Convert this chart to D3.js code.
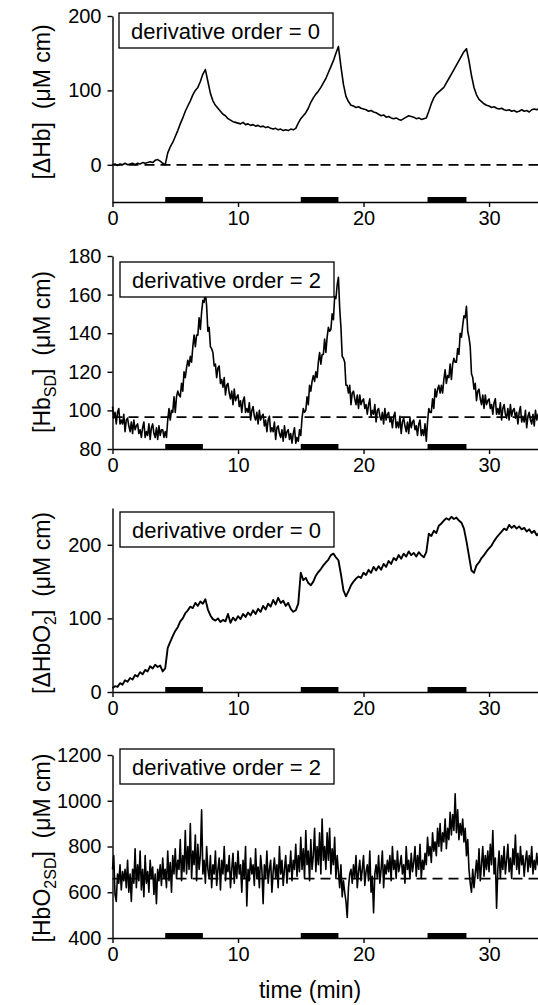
<!DOCTYPE html>
<html>
<head>
<meta charset="utf-8">
<script src="https://cdn.jsdelivr.net/npm/d3@7"></script>
<style>
  body { margin: 0; background: #fff; }
  svg { display: block; }
  text { font-family: "Liberation Sans", Arial, Helvetica, sans-serif; fill: #000; }
</style>
</head>
<body>
<div id="chart"></div>
<script>
// sampled traces, time in minutes (start 0, fixed step per trace)
const hbDeltaStep = 0.2;
const hbDelta = [
  0, 1, -1, 1, 0, 2, 0, 1, 2, 0, 2, 1, 3, 2, 3, 4, 3, 6, 7, 5,
  2, 0, 16, 24, 30, 38, 46, 55, 63, 72, 79, 86, 94, 100, 104, 112, 122, 128, 112, 96,
  86, 80, 76, 72, 68, 66, 62, 60, 58, 57, 56, 55, 57, 54, 55, 53, 54, 52, 53, 51,
  52, 50, 51, 49, 48, 49, 47, 48, 46, 47, 46, 48, 47, 49, 56, 62, 66, 70, 76, 84,
  90, 95, 99, 104, 110, 116, 124, 132, 140, 150, 159, 132, 108, 92, 85, 80, 79, 77, 78, 76,
  75, 74, 72, 73, 71, 70, 68, 66, 67, 64, 65, 63, 62, 63, 61, 60, 62, 64, 66, 65,
  64, 62, 63, 61, 62, 63, 72, 82, 90, 95, 98, 101, 104, 110, 116, 122, 128, 134, 140, 146,
  152, 156, 140, 120, 104, 94, 88, 85, 82, 80, 79, 77, 78, 76, 75, 76, 74, 73, 74, 72,
  73, 71, 72, 74, 72, 73, 71, 74, 75, 74, 76
];

const hbSDStep = 0.1;
const hbSD = [
  102, 96, 99, 93, 99, 101, 93, 95, 93, 98,
  89, 95, 96, 92, 89, 94, 88, 95, 90, 92,
  93, 88, 90, 86, 91, 94, 86, 89, 87, 93,
  85, 91, 93, 88, 86, 91, 85, 92, 87, 90,
  90, 86, 89, 86, 95, 101, 95, 100, 99, 107,
  99, 107, 110, 108, 107, 114, 110, 120, 117, 122,
  126, 123, 128, 125, 133, 139, 133, 139, 139, 148,
  142, 151, 157, 156, 162, 154, 141, 143, 133, 132,
  130, 123, 124, 117, 122, 123, 114, 116, 112, 117,
  108, 113, 114, 109, 106, 110, 103, 111, 105, 107,
  108, 102, 105, 99, 105, 107, 99, 101, 99, 104,
  95, 100, 102, 97, 95, 99, 93, 100, 95, 97,
  98, 92, 95, 89, 95, 97, 89, 91, 89, 94,
  85, 91, 92, 88, 86, 90, 84, 92, 86, 89,
  90, 85, 88, 83, 88, 91, 83, 86, 84, 90,
  87, 96, 101, 99, 100, 107, 103, 113, 110, 115,
  118, 115, 120, 117, 125, 130, 124, 129, 129, 137,
  130, 138, 143, 141, 142, 150, 147, 159, 158, 165,
  169, 153, 143, 128, 127, 125, 113, 113, 109, 113,
  103, 109, 110, 106, 103, 108, 101, 108, 103, 105,
  106, 101, 103, 98, 103, 106, 97, 100, 98, 103,
  94, 100, 101, 97, 95, 99, 93, 101, 95, 98,
  99, 94, 96, 91, 97, 99, 91, 94, 91, 97,
  88, 94, 96, 92, 89, 94, 88, 96, 91, 94,
  95, 90, 92, 87, 93, 95, 87, 90, 87, 93,
  84, 94, 101, 99, 99, 106, 101, 111, 107, 111,
  113, 109, 113, 109, 116, 121, 114, 118, 117, 124,
  116, 124, 127, 125, 125, 132, 129, 140, 138, 144,
  149, 148, 154, 141, 138, 133, 119, 117, 111, 114,
  105, 110, 111, 106, 103, 108, 101, 108, 103, 105,
  106, 101, 103, 98, 104, 106, 98, 101, 98, 104,
  95, 101, 103, 98, 96, 101, 95, 103, 97, 100,
  101, 96, 99, 93, 99, 102, 94, 97, 94, 100,
  91, 97, 99, 95, 93, 98, 92, 100, 95, 98,
  97
];

const hbo2DeltaStep = 0.2;
const hbo2Delta = [
  5, 8, 7, 12, 10, 16, 14, 19, 17, 23, 21, 27, 24, 30, 28, 35, 32, 37, 34, 36,
  28, 32, 60, 68, 76, 83, 88, 96, 100, 107, 111, 116, 114, 121, 117, 123, 120, 126, 112, 104,
  99, 97, 100, 95, 98, 96, 106, 94, 101, 97, 103, 99, 106, 102, 108, 104, 111, 106, 113, 109,
  117, 112, 120, 116, 125, 119, 128, 121, 124, 117, 121, 113, 109, 111, 120, 162, 152, 155, 148, 145,
  150, 158, 163, 167, 172, 176, 180, 186, 188, 183, 179, 160, 138, 130, 137, 145, 150, 154, 157, 155,
  162, 159, 166, 162, 170, 165, 171, 166, 174, 170, 178, 174, 182, 179, 186, 181, 188, 184, 191, 186,
  189, 184, 190, 186, 183, 190, 215, 212, 219, 216, 226, 229, 233, 236, 234, 238, 235, 237, 233, 230,
  222, 205, 185, 165, 162, 172, 176, 182, 186, 191, 195, 199, 205, 210, 214, 218, 222, 220, 227, 223,
  226, 222, 225, 221, 223, 218, 221, 216, 219, 213, 216
];

const hbo2SDStep = 0.1;
const hbo2SD = [
  700, 760, 590, 560, 680, 640, 720, 610, 690, 650,
  700, 620, 740, 600, 680, 560, 700, 640, 790, 620,
  720, 650, 780, 610, 700, 580, 760, 640, 690, 600,
  740, 660, 710, 590, 680, 550, 700, 650, 720, 630,
  750, 660, 700, 620, 780, 650, 730, 600, 760, 680,
  790, 660, 740, 700, 830, 650, 760, 690, 870, 680,
  800, 700, 900, 660, 780, 720, 850, 650, 810, 700,
  760, 960, 680, 740, 640, 800, 700, 660, 760, 620,
  720, 680, 780, 630, 700, 750, 610, 740, 680, 800,
  650, 720, 690, 760, 620, 700, 770, 640, 730, 660,
  780, 680, 720, 600, 740, 660, 800, 540, 700, 650,
  750, 680, 720, 630, 790, 660, 710, 620, 760, 700,
  550, 720, 660, 780, 640, 700, 740, 600, 690, 750,
  660, 720, 620, 800, 680, 740, 630, 700, 760, 640,
  720, 690, 780, 650, 740, 700, 810, 670, 760, 690,
  840, 700, 790, 660, 870, 720, 780, 650, 830, 700,
  760, 880, 690, 800, 720, 860, 680, 920, 740, 800,
  700, 860, 740, 880, 680, 790, 720, 840, 660, 760,
  690, 620, 720, 580, 650, 600, 560, 490, 620, 680,
  700, 640, 720, 660, 760, 620, 690, 740, 650, 700,
  760, 630, 690, 720, 650, 780, 600, 670, 510, 680,
  720, 660, 760, 640, 700, 780, 620, 720, 680, 740,
  690, 760, 650, 800, 700, 740, 660, 780, 690, 720,
  760, 680, 720, 640, 800, 700, 740, 660, 770, 690,
  730, 800, 670, 760, 700, 810, 660, 740, 700, 770,
  720, 840, 760, 800, 730, 860, 780, 820, 760, 880,
  800, 900, 780, 860, 820, 920, 790, 880, 830, 950,
  850, 940, 870, 1030, 860, 960, 830, 900, 850, 920,
  820, 880, 760, 830, 700, 640, 600, 700, 620, 680,
  740, 660, 790, 650, 720, 800, 670, 760, 700, 780,
  690, 810, 720, 870, 680, 750, 530, 700, 780, 660,
  760, 700, 800, 680, 740, 810, 690, 750, 660, 790,
  720, 850, 700, 770, 680, 800, 720, 760, 670, 740,
  780, 690, 760, 710, 800, 680, 740, 700, 770, 720,
  740
];

// stimulation periods (min)
const stimStart = [4.2, 15.0, 25.1];
const stimEnd = [7.2, 18.0, 28.2];

const timeTicks = [0, 10, 20, 30];
const hbDeltaTicks = [0, 100, 200];
const hbSDTicks = [80, 100, 120, 140, 160, 180];
const hbo2DeltaTicks = [0, 100, 200];
const hbo2SDTicks = [400, 600, 800, 1000, 1200];

const baselines = [0, 96.5, null, 660];
const derivOrders = [0, 2, 0, 2];

const width = 538, height = 1005;

const svg = d3.select("#chart")
    .append("svg")
    .attr("width", width)
    .attr("height", height);

const x = d3.scaleLinear().domain([0, 33.9]).range([112.5, 538]);

const panels = [
    {values: hbDelta, step: hbDeltaStep, domain: [-50, 200], range: [202, 16], ticks: hbDeltaTicks,
     label: [["[ΔHb]", 0], ["  (μM cm)", 0]], labelY: 102, box: [119, 13], sw: 1.6},
    {values: hbSD, step: hbSDStep, domain: [80, 180], range: [449, 256], ticks: hbSDTicks,
     label: [["[Hb", 0], ["SD", 1], ["]  (μM cm)", 0]], labelY: 352, box: [120, 262], sw: 1.6},
    {values: hbo2Delta, step: hbo2DeltaStep, domain: [0, 250], range: [692, 508], ticks: hbo2DeltaTicks,
     label: [["[ΔHbO", 0], ["2", 1], ["]  (μM cm)", 0]], labelY: 603, box: [120, 512], sw: 1.9},
    {values: hbo2SD, step: hbo2SDStep, domain: [400, 1200], range: [938, 755], ticks: hbo2SDTicks,
     label: [["[HbO", 0], ["2SD", 1], ["]  (μM cm)", 0]], labelY: 848, box: [120, 749], sw: 1.6}
];

panels.forEach((p, i) => {
    const y = d3.scaleLinear().domain(p.domain).range(p.range);
    const g = svg.append("g");
    const axisY = p.range[0];

    // baseline (dashed)
    if (baselines[i] !== null) {
        g.append("line")
            .attr("x1", x(0)).attr("x2", width)
            .attr("y1", y(baselines[i])).attr("y2", y(baselines[i]))
            .attr("stroke", "#000")
            .attr("stroke-width", 1.8)
            .attr("stroke-dasharray", "10,6");
    }

    // trace
    const line = d3.line()
        .x((d, j) => x(j * p.step))
        .y(d => y(d));

    g.append("path")
        .datum(p.values)
        .attr("fill", "none")
        .attr("stroke", "#000")
        .attr("stroke-width", p.sw)
        .attr("stroke-linejoin", "round")
        .attr("d", line);

    // axes
    const yAxis = d3.axisLeft(y).tickValues(p.ticks).tickFormat(d3.format("d"))
        .tickSize(5).tickSizeOuter(0).tickPadding(6);
    const xAxis = d3.axisBottom(x).tickValues(timeTicks).tickSize(5).tickSizeOuter(0).tickPadding(4);

    const gy = g.append("g").attr("transform", `translate(${x(0)},0)`).call(yAxis);
    const gx = g.append("g").attr("transform", `translate(0,${axisY})`).call(xAxis);

    [gx, gy].forEach(a => {
        a.attr("font-family", null).attr("font-size", null);
        a.selectAll("path, line").attr("stroke", "#000").attr("stroke-width", 1.4);
        a.selectAll("text").style("font-size", "20px");
    });

    // stimulation bars
    g.selectAll("rect.stim")
        .data(stimStart)
        .enter()
        .append("rect")
        .attr("class", "stim")
        .attr("x", (d, j) => x(d))
        .attr("width", (d, j) => x(stimEnd[j]) - x(d))
        .attr("y", axisY - 5)
        .attr("height", 5)
        .attr("fill", "#000");

    // annotation box
    const bx = p.box[0], by = p.box[1];
    g.append("rect")
        .attr("x", bx).attr("y", by)
        .attr("width", 214).attr("height", 35)
        .attr("fill", "#fff")
        .attr("stroke", "#000")
        .attr("stroke-width", 1.3);

    g.append("text")
        .attr("x", bx + 12)
        .attr("y", by + 26)
        .style("font-size", "22px")
        .text(`derivative order = ${derivOrders[i]}`);

    // y label
    const lab = g.append("text")
        .attr("transform", `translate(50,${p.labelY}) rotate(-90)`)
        .style("text-anchor", "middle")
        .style("font-size", "23px")
        .style("white-space", "pre");

    let shifted = 0;
    p.label.forEach(part => {
        const t = lab.append("tspan").text(part[0]);
        if (part[1] === 1) {
            t.attr("dy", 6).style("font-size", "16px");
            shifted = 6;
        } else if (shifted) {
            t.attr("dy", -shifted);
            shifted = 0;
        }
    });
});

svg.append("text")
    .attr("x", 310)
    .attr("y", 998)
    .style("text-anchor", "middle")
    .style("font-size", "23px")
    .text("time (min)");
</script>
</body>
</html>
